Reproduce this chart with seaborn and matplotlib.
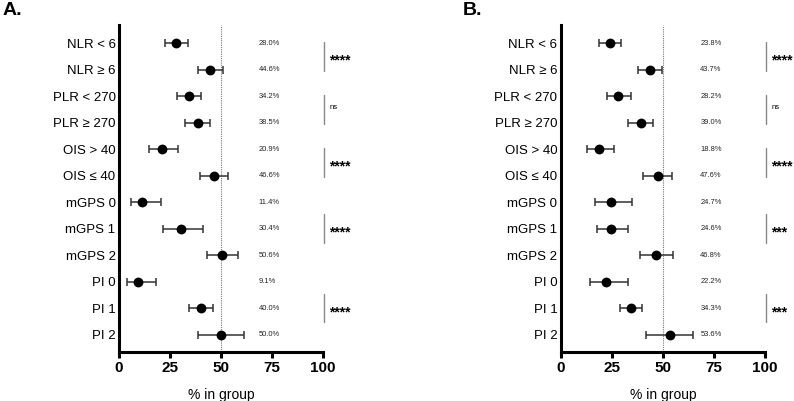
import numpy as np
import pandas as pd
import matplotlib.pyplot as plt
import seaborn as sns

sns.set_style("ticks")
plt.rcParams["font.family"] = ["Liberation Sans", "DejaVu Sans"]
plt.rcParams["text.color"] = "black"
plt.rcParams["xtick.color"] = "black"
plt.rcParams["ytick.color"] = "black"
plt.rcParams["axes.labelcolor"] = "black"

labels = ["NLR < 6", "NLR \u2265 6", "PLR < 270", "PLR \u2265 270", "OIS > 40", "OIS \u2264 40",
          "mGPS 0", "mGPS 1", "mGPS 2", "PI 0", "PI 1", "PI 2"]

# panel A
pct_a = [28.0, 44.6, 34.2, 38.5, 20.9, 46.6, 11.4, 30.4, 50.6, 9.1, 40.0, 50.0]
lo_a = [22.7, 38.6, 28.4, 32.5, 14.9, 39.5, 6.0, 21.6, 43.0, 4.1, 34.3, 38.6]
hi_a = [33.8, 51.1, 40.2, 44.6, 28.9, 53.6, 20.4, 41.2, 58.2, 18.3, 46.2, 61.4]
sig_a = ["****", "ns", "****", "****", "****"]

# panel B
pct_b = [23.8, 43.7, 28.2, 39.0, 18.8, 47.6, 24.7, 24.6, 46.8, 22.2, 34.3, 53.6]
lo_b = [18.8, 37.7, 22.7, 33.0, 12.9, 40.4, 16.7, 17.5, 38.7, 14.1, 28.8, 41.8]
hi_b = [29.6, 49.5, 34.2, 45.1, 26.1, 54.6, 34.8, 33.0, 54.9, 32.7, 39.9, 64.7]
sig_b = ["****", "ns", "****", "***", "***"]

# rows compared by each bracket
bracket_rows = [(0, 1), (2, 3), (4, 5), (6, 8), (9, 11)]

fig = plt.figure(figsize=(7.94, 4.01), dpi=100)
ax_a = fig.add_axes([0.1499, 0.1222, 0.2569, 0.8155])
ax_b = fig.add_axes([0.7065, 0.1222, 0.2569, 0.8155])


def draw_panel(ax, pct, lo, hi, sig):
    df = pd.DataFrame({"label": labels, "pct": pct, "lo": lo, "hi": hi})
    df["row"] = np.arange(len(df))

    ax.axvline(50, color="#777777", lw=0.8, ls=(0, (1, 1)), zorder=1)
    ax.errorbar(df["pct"], df["row"],
                xerr=[df["pct"] - df["lo"], df["hi"] - df["pct"]],
                fmt="none", ecolor="#333333", elinewidth=1.1, capsize=3.2,
                capthick=1.1, zorder=2)
    sns.scatterplot(data=df, x="pct", y="row", ax=ax, color="black",
                    s=50, edgecolor="black", linewidth=0, zorder=3)

    for _, r in df.iterrows():
        ax.text(68.3, r["row"], f"{r['pct']:.1f}%", fontsize=5.4,
                ha="left", va="center", color="#222222")

    for (r0, r1), s in zip(bracket_rows, sig):
        mid = (r0 + r1) / 2
        ax.plot([100.3, 100.3], [mid - 0.54, mid + 0.54], color="#888888",
                lw=1.0, clip_on=False)
        if s == "ns":
            ax.text(103.4, mid - 0.05, s, fontsize=5.5, ha="left", va="center")
        else:
            ax.text(103.0, mid + 0.15, s, fontsize=10, fontweight="bold",
                    ha="left", va="center", clip_on=False)

    ax.set_xlim(0, 100)
    ax.set_ylim(11.66, -0.68)
    ax.set_yticks(df["row"])
    ax.set_yticklabels(df["label"], fontsize=9.5)
    ax.set_xticks([0, 25, 50, 75, 100])
    ax.set_xticklabels(["0", "25", "50", "75", "100"], fontsize=11,
                       fontweight="bold")
    ax.tick_params(axis="y", length=0, pad=2.5)
    ax.tick_params(axis="x", length=4.5, width=2.2, pad=2)
    ax.set_xlabel("% in group", fontsize=10, labelpad=9)
    ax.set_ylabel("")
    sns.despine(ax=ax)
    for side in ["left", "bottom"]:
        ax.spines[side].set_linewidth(2.2)
        ax.spines[side].set_color("black")
    ax.spines["bottom"].set_capstyle("projecting")


draw_panel(ax_a, pct_a, lo_a, hi_a, sig_a)
draw_panel(ax_b, pct_b, lo_b, hi_b, sig_b)

fig.text(0.003, 0.995, "A.", fontsize=14, fontweight="bold", ha="left", va="top")
fig.text(0.583, 0.995, "B.", fontsize=14, fontweight="bold", ha="left", va="top")

plt.savefig("out.png", dpi=100)
